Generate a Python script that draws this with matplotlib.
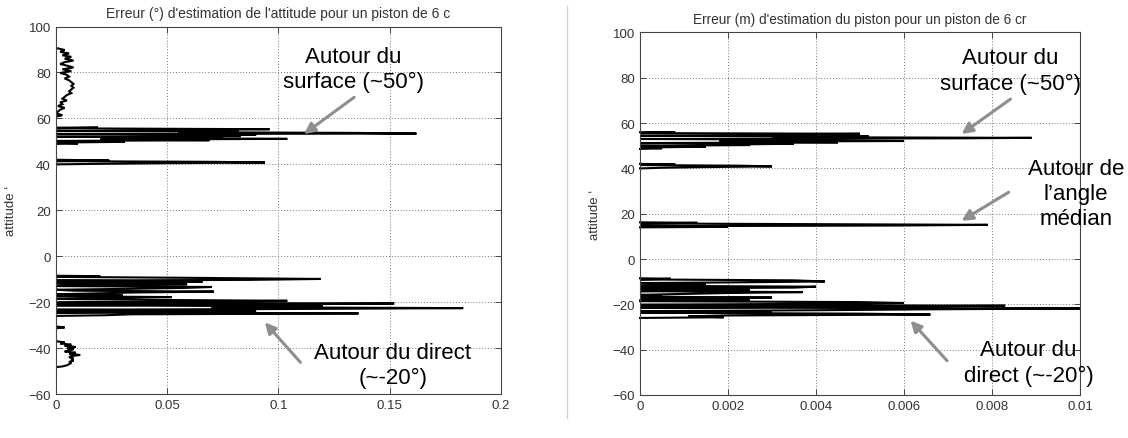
import matplotlib
matplotlib.use("Agg")
import matplotlib.pyplot as plt
from matplotlib.ticker import FormatStrFormatter
from matplotlib.lines import Line2D

OUT = "out.png"

plt.rcParams["font.family"] = ["Liberation Sans", "DejaVu Sans"]

# ---------------- left panel : attitude error (deg) ----------------
L_TOP_ATT = [90.5, 89.8, 89.0, 88.3, 87.5, 86.8, 86.0, 85.2, 84.5, 83.7,
             83.0, 82.2, 81.4, 80.6, 79.8, 79.0, 78.2, 77.4, 76.6, 75.8,
             75.0, 74.2, 73.4, 72.6, 71.8, 71.0, 70.2, 69.4, 68.6, 67.8,
             67.0, 66.2, 65.4, 64.6, 63.8, 63.0, 62.2, 61.4, 60.8]
L_TOP_ERR = [0.001, 0.004, 0.002, 0.006, 0.003, 0.007, 0.004, 0.008, 0.004, 0.002,
             0.005, 0.008, 0.003, 0.007, 0.002, 0.005, 0.006, 0.004, 0.006, 0.007,
             0.008, 0.007, 0.008, 0.007, 0.006, 0.007, 0.005, 0.004, 0.003, 0.005,
             0.002, 0.003, 0.001, 0.004, 0.002, 0.001, 0.0, 0.003, 0.0]

L_A_ATT = [56.0, 56.0, 55.7, 55.3, 55.0, 54.8, 54.5, 54.3, 54.0, 53.7,
           53.4, 53.2, 52.9, 52.6, 52.3, 52.0, 51.7, 51.4, 51.1, 50.8,
           50.5, 50.2, 49.8, 49.5, 49.1, 48.9]
L_A_ERR = [0.0, 0.019, 0.0, 0.096, 0.048, 0.070, 0.0, 0.082, 0.055, 0.135,
           0.162, 0.0, 0.090, 0.065, 0.083, 0.0, 0.075, 0.045, 0.104, 0.020,
           0.069, 0.0, 0.031, 0.0, 0.010, 0.0]

L_C_ATT = [42.0, 41.7, 41.4, 41.1, 40.8, 40.5, 40.2, 40.0]
L_C_ERR = [0.0, 0.024, 0.0, 0.071, 0.094, 0.048, 0.017, 0.0]

L_B_ATT = [-8.5, -8.7, -9.0, -9.4, -9.9, -10.3, -10.6, -11.0, -11.4, -11.8,
           -12.2, -12.6, -13.0, -13.4, -13.8, -14.2, -14.6, -15.0, -15.4, -15.8,
           -16.2, -16.6, -17.0, -17.4, -17.8, -18.2, -18.6, -19.0, -19.4, -19.8,
           -20.2, -20.6, -21.0, -21.4, -21.8, -22.2, -22.6, -23.0, -23.3, -23.7,
           -24.1, -24.5, -24.9, -25.3, -25.7, -26.0]
L_B_ERR = [0.0, 0.020, 0.0, 0.059, 0.119, 0.087, 0.0, 0.066, 0.041, 0.0,
           0.059, 0.008, 0.0, 0.070, 0.058, 0.033, 0.0, 0.008, 0.071, 0.035,
           0.017, 0.0, 0.030, 0.0, 0.052, 0.020, 0.0, 0.040, 0.104, 0.060,
           0.0, 0.152, 0.090, 0.0, 0.120, 0.070, 0.183, 0.100, 0.0, 0.090,
           0.050, 0.0, 0.136, 0.034, 0.022, 0.0]

L_SPIKE_ATT = [-30.6, -31.0, -31.4]
L_SPIKE_ERR = [0.0, 0.004, 0.0]

L_BOT_ATT = [-37.0, -37.5, -38.0, -38.5, -39.0, -39.5, -40.0, -40.5, -41.0, -41.5,
             -42.0, -42.5, -43.0, -43.5, -44.0, -44.5, -45.0, -45.5, -46.0, -46.5,
             -47.0, -47.5, -48.0, -48.3]
L_BOT_ERR = [0.0, 0.004, 0.002, 0.007, 0.004, 0.009, 0.005, 0.008, 0.006, 0.004,
             0.009, 0.006, 0.011, 0.007, 0.006, 0.008, 0.007, 0.008, 0.006, 0.007,
             0.006, 0.005, 0.003, 0.0]

# ---------------- right panel : piston error (m) ----------------
R_A_ATT = [56.0, 55.9, 55.6, 55.3, 55.0, 54.7, 54.4, 54.1, 53.8, 53.5,
           53.3, 53.0, 52.7, 52.4, 52.1, 51.8, 51.5, 51.2, 50.9, 50.6,
           50.3, 50.0, 49.6, 49.2, 48.9, 48.6]
R_A_ERR = [0.0, 0.0008, 0.0, 0.0050, 0.0025, 0.0037, 0.0, 0.0052, 0.0030, 0.0089,
           0.0074, 0.0, 0.0045, 0.0032, 0.0060, 0.0018, 0.0045, 0.0, 0.0035, 0.0023,
           0.0025, 0.0, 0.0015, 0.0, 0.0005, 0.0]

R_C_ATT = [42.0, 41.8, 41.5, 41.2, 40.9, 40.6, 40.3, 40.0]
R_C_ERR = [0.0, 0.0008, 0.0, 0.0023, 0.0030, 0.0015, 0.0005, 0.0]

R_M_ATT = [16.2, 16.0, 15.7, 15.4, 15.1, 14.8, 14.5, 14.2, 14.0]
R_M_ERR = [0.0, 0.0013, 0.0, 0.0040, 0.0079, 0.0059, 0.0, 0.0020, 0.0]

R_B_ATT = [-8.5, -8.7, -9.0, -9.4, -9.9, -10.3, -10.6, -11.0, -11.4, -11.8,
           -12.2, -12.6, -13.0, -13.4, -13.8, -14.2, -14.6, -15.0, -15.4, -15.8,
           -16.2, -16.6, -17.0, -17.4, -17.8, -18.2, -18.6, -19.0, -19.4, -19.8,
           -20.2, -20.6, -21.0, -21.4, -21.8, -22.2, -22.6, -23.0, -23.3, -23.7,
           -24.1, -24.5, -24.9, -25.3, -25.7, -26.0]
R_B_ERR = [0.0, 0.0007, 0.0, 0.0035, 0.0042, 0.0021, 0.0, 0.0015, 0.0007, 0.0,
           0.0040, 0.0035, 0.0, 0.0025, 0.0012, 0.0, 0.0037, 0.0020, 0.0010, 0.0,
           0.0005, 0.0, 0.0030, 0.0, 0.0025, 0.0, 0.0, 0.0050, 0.0060, 0.0035,
           0.0, 0.0083, 0.0046, 0.0, 0.0100, 0.0065, 0.0040, 0.0, 0.0030, 0.0,
           0.0050, 0.0066, 0.0020, 0.0011, 0.0019, 0.0]

YTICKS = [-60, -40, -20, 0, 20, 40, 60, 80, 100]
L_XTICKS = [0, 0.05, 0.1, 0.15, 0.2]
R_XTICKS = [0, 0.002, 0.004, 0.006, 0.008, 0.01]

TICK_COL = "#333333"
ARROW = dict(arrowstyle="-|>", color="#8e8e8e", lw=2.2, mutation_scale=16,
             shrinkA=0, shrinkB=0)
NOTE = dict(ha="center", va="center", fontsize=16, linespacing=1.25)


def style_axis(ax, xticks):
    ax.set_xlim(xticks[0], xticks[-1])
    ax.set_ylim(-60, 100)
    ax.set_xticks(xticks)
    ax.set_yticks(YTICKS)
    ax.xaxis.set_major_formatter(FormatStrFormatter("%g"))
    ax.grid(True, linestyle=(0, (1, 2)), color="#777777", lw=0.7)
    ax.tick_params(direction="in", top=True, right=True, labelsize=9.5,
                   labelcolor=TICK_COL, color="#444444", length=4, width=0.7)
    for s in ax.spines.values():
        s.set_color("#444444")
        s.set_linewidth(0.8)
    ax.set_ylabel("attitude \u2018", fontsize=9.5, color=TICK_COL)
    ax.yaxis.set_label_coords(-0.088, 0.5)


fig = plt.figure(figsize=(11.28, 4.39), dpi=100)

# left
ax1 = fig.add_axes([0.0494, 0.1002, 0.3948, 0.837])
for a, e in [(L_TOP_ATT, L_TOP_ERR), (L_A_ATT, L_A_ERR), (L_C_ATT, L_C_ERR),
             (L_B_ATT, L_B_ERR), (L_SPIKE_ATT, L_SPIKE_ERR), (L_BOT_ATT, L_BOT_ERR)]:
    ax1.plot(e, a, color="black", lw=1.5, solid_joinstyle="miter")
style_axis(ax1, L_XTICKS)

ax1.annotate("", xy=(0.1115, 53.2), xytext=(0.134, 69.2), arrowprops=ARROW)
ax1.annotate("", xy=(0.0939, -28.8), xytext=(0.1099, -46.2), arrowprops=ARROW)
ax1.text(0.668, 0.884, "Autour du\nsurface (~50°)", transform=ax1.transAxes, **NOTE)
ax1.text(0.757, 0.079, "Autour du direct\n(~-20°)", transform=ax1.transAxes, **NOTE)

# right
ax2 = fig.add_axes([0.5674, 0.098, 0.390, 0.8257])
for a, e in [(R_A_ATT, R_A_ERR), (R_C_ATT, R_C_ERR), (R_M_ATT, R_M_ERR),
             (R_B_ATT, R_B_ERR)]:
    ax2.plot(e, a, color="black", lw=1.5, solid_joinstyle="miter", clip_on=False)
style_axis(ax2, R_XTICKS)

ax2.annotate("", xy=(0.00731, 55.2), xytext=(0.00842, 70.6), arrowprops=ARROW)
ax2.annotate("", xy=(0.00731, 16.9), xytext=(0.00838, 29.5), arrowprops=ARROW)
ax2.annotate("", xy=(0.00615, -27.2), xytext=(0.00698, -44.9), arrowprops=ARROW)
ax2.text(0.842, 0.895, "Autour du\nsurface (~50°)", transform=ax2.transAxes, **NOTE)
ax2.text(0.991, 0.557, "Autour de\nl\u2019angle\nmédian", transform=ax2.transAxes, **NOTE)
ax2.text(0.883, 0.0897, "Autour du\ndirect (~-20°)", transform=ax2.transAxes, **NOTE)

# titles (cut off in the original)
fig.text(278 / 1128, 1 - 14 / 439, "Erreur (°) d'estimation de l'attitude pour un piston de 6 c",
         ha="center", va="center", fontsize=10, color=TICK_COL)
fig.text(860 / 1128, 1 - 20 / 439, "Erreur (m) d'estimation du piston pour un piston de 6 cr",
         ha="center", va="center", fontsize=9.8, color=TICK_COL)

# thin separator between the two panels
fig.add_artist(Line2D([567 / 1128, 567 / 1128], [0.045, 0.985],
                      transform=fig.transFigure, color="#d4d4d4", lw=1))

fig.savefig(OUT, dpi=100)
